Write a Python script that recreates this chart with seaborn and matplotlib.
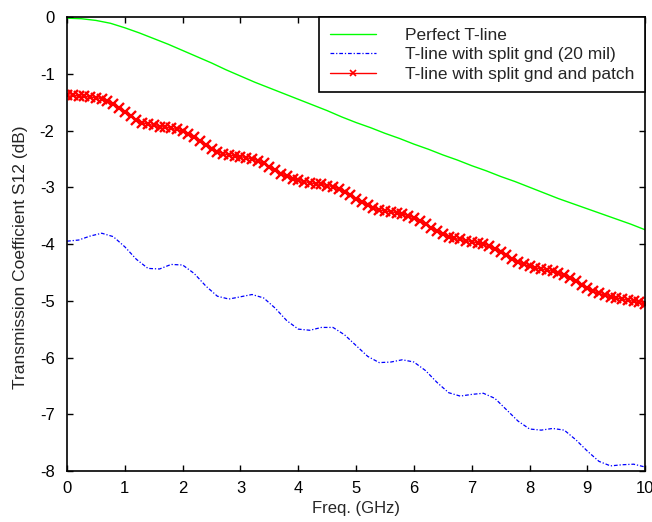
import numpy as np
import pandas as pd
import seaborn as sns
import matplotlib
matplotlib.use("Agg")
import matplotlib.pyplot as plt

# values
freq_perfect = [0.0, 0.25, 0.5, 0.75, 1.0, 1.25, 1.5, 1.75, 2.0, 2.25, 2.5, 2.75, 3.0, 3.25,
                3.5, 3.75, 4.0, 4.25, 4.5, 4.75, 5.0, 5.25, 5.5, 5.75, 6.0, 6.25, 6.5, 6.75,
                7.0, 7.25, 7.5, 7.75, 8.0, 8.25, 8.5, 8.75, 9.0, 9.25, 9.5, 9.75, 10.0]
s12_perfect = [-0.02, -0.03, -0.06, -0.11, -0.19, -0.28, -0.38, -0.48, -0.59, -0.70, -0.81,
               -0.93, -1.04, -1.15, -1.25, -1.35, -1.45, -1.55, -1.65, -1.76, -1.86, -1.95,
               -2.05, -2.14, -2.24, -2.33, -2.43, -2.52, -2.62, -2.71, -2.81, -2.90, -3.00,
               -3.10, -3.20, -3.29, -3.38, -3.47, -3.56, -3.65, -3.75]

freq_split = [0.0, 0.2, 0.4, 0.6, 0.8, 1.0, 1.2, 1.4, 1.6, 1.8, 2.0, 2.2, 2.4, 2.6, 2.8, 3.0,
              3.2, 3.4, 3.6, 3.8, 4.0, 4.2, 4.4, 4.6, 4.8, 5.0, 5.2, 5.4, 5.6, 5.8, 6.0, 6.2,
              6.4, 6.6, 6.8, 7.0, 7.2, 7.4, 7.6, 7.8, 8.0, 8.2, 8.4, 8.6, 8.8, 9.0, 9.2, 9.4,
              9.6, 9.8, 10.0]
s12_split = [-3.95, -3.93, -3.86, -3.81, -3.87, -4.05, -4.27, -4.43, -4.44, -4.36, -4.37,
             -4.52, -4.74, -4.92, -4.97, -4.93, -4.89, -4.95, -5.13, -5.35, -5.50, -5.52,
             -5.47, -5.47, -5.60, -5.79, -5.98, -6.09, -6.08, -6.04, -6.08, -6.23, -6.44,
             -6.62, -6.68, -6.65, -6.63, -6.72, -6.92, -7.12, -7.26, -7.28, -7.25, -7.28,
             -7.45, -7.65, -7.83, -7.91, -7.89, -7.88, -7.93]

freq_patch = [0.0, 0.1, 0.2, 0.3, 0.4, 0.5, 0.6, 0.7, 0.8, 0.9, 1.0, 1.1, 1.2, 1.3, 1.4, 1.5,
              1.6, 1.7, 1.8, 1.9, 2.0, 2.1, 2.2, 2.3, 2.4, 2.5, 2.6, 2.7, 2.8, 2.9, 3.0, 3.1,
              3.2, 3.3, 3.4, 3.5, 3.6, 3.7, 3.8, 3.9, 4.0, 4.1, 4.2, 4.3, 4.4, 4.5, 4.6, 4.7,
              4.8, 4.9, 5.0, 5.1, 5.2, 5.3, 5.4, 5.5, 5.6, 5.7, 5.8, 5.9, 6.0, 6.1, 6.2, 6.3,
              6.4, 6.5, 6.6, 6.7, 6.8, 6.9, 7.0, 7.1, 7.2, 7.3, 7.4, 7.5, 7.6, 7.7, 7.8, 7.9,
              8.0, 8.1, 8.2, 8.3, 8.4, 8.5, 8.6, 8.7, 8.8, 8.9, 9.0, 9.1, 9.2, 9.3, 9.4, 9.5,
              9.6, 9.7, 9.8, 9.9, 10.0]
s12_patch = [-1.37, -1.38, -1.39, -1.40, -1.41, -1.42, -1.44, -1.48, -1.54, -1.61, -1.68,
             -1.75, -1.81, -1.86, -1.89, -1.91, -1.93, -1.94, -1.96, -1.98, -2.01, -2.06,
             -2.12, -2.19, -2.26, -2.32, -2.37, -2.41, -2.43, -2.45, -2.46, -2.48, -2.50,
             -2.53, -2.58, -2.64, -2.70, -2.76, -2.81, -2.85, -2.88, -2.90, -2.92, -2.94,
             -2.95, -2.97, -2.99, -3.03, -3.08, -3.14, -3.20, -3.26, -3.32, -3.37, -3.40,
             -3.42, -3.43, -3.45, -3.47, -3.50, -3.54, -3.59, -3.65, -3.71, -3.77, -3.82,
             -3.87, -3.90, -3.92, -3.94, -3.96, -3.98, -4.00, -4.03, -4.08, -4.14, -4.20,
             -4.26, -4.31, -4.36, -4.39, -4.42, -4.44, -4.46, -4.48, -4.51, -4.55, -4.60,
             -4.66, -4.72, -4.78, -4.83, -4.87, -4.90, -4.93, -4.95, -4.97, -4.99, -5.01,
             -5.03, -5.06]

labels = ["Perfect T-line", "T-line with split gnd (20 mil)", "T-line with split gnd and patch"]

sns.set_style("white")
plt.rcParams["font.family"] = ["Liberation Sans", "DejaVu Sans"]
plt.rcParams["axes.unicode_minus"] = False
narrow = ["Liberation Sans Narrow", "Liberation Sans", "DejaVu Sans"]

fig = plt.figure(figsize=(6.52, 5.22), dpi=100)
ax = fig.add_axes([0.1028, 0.0977, 0.8868, 0.8697])

sns.lineplot(x=freq_perfect, y=s12_perfect, ax=ax, color="#00ff00", linewidth=1.0,
             label=labels[0])
sns.lineplot(x=freq_split, y=s12_split, ax=ax, color="#0000ff", linewidth=0.9,
             linestyle=(0, (3, 1.5, 1, 1.5)), label=labels[1])
sns.lineplot(x=freq_patch, y=s12_patch, ax=ax, color="#ff0000", linewidth=1.0,
             marker="x", markersize=7.5, markeredgewidth=1.7, markeredgecolor="#ff0000",
             label=labels[2])

ax.set_xlim(0, 10)
ax.set_ylim(-8, 0)
ax.set_xticks(range(0, 11))
ax.set_yticks(range(-8, 1))
ax.set_xlabel("Freq. (GHz)", fontsize=12, family=narrow, labelpad=4)
ax.set_ylabel("Transmission Coefficient S12 (dB)", fontsize=12.5)
ax.yaxis.set_label_coords(-0.067, 0.471)
ax.tick_params(direction="in", length=4, width=1.0, labelsize=12,
               top=True, right=True, bottom=True, left=True, colors="black")
ax.tick_params(axis="x", pad=7)
ax.tick_params(axis="y", pad=9)
for t in ax.get_xticklabels() + ax.get_yticklabels():
    t.set_family(narrow)
for s in ax.spines.values():
    s.set_visible(True)
    s.set_color("black")
    s.set_linewidth(1.2)

leg = ax.legend(loc="upper right", fontsize=12.5, frameon=True, fancybox=False,
                framealpha=1, edgecolor="black", borderaxespad=0.0,
                handlelength=2.7, handletextpad=1.67, labelspacing=0.26,
                borderpad=0.6)
leg.get_frame().set_linewidth(1.2)
# legend sample for the patch line shows a single small cross
leg.legend_handles[2].set_markersize(5)
leg.legend_handles[2].set_markeredgewidth(1.2)

fig.savefig("out.png", dpi=100)
